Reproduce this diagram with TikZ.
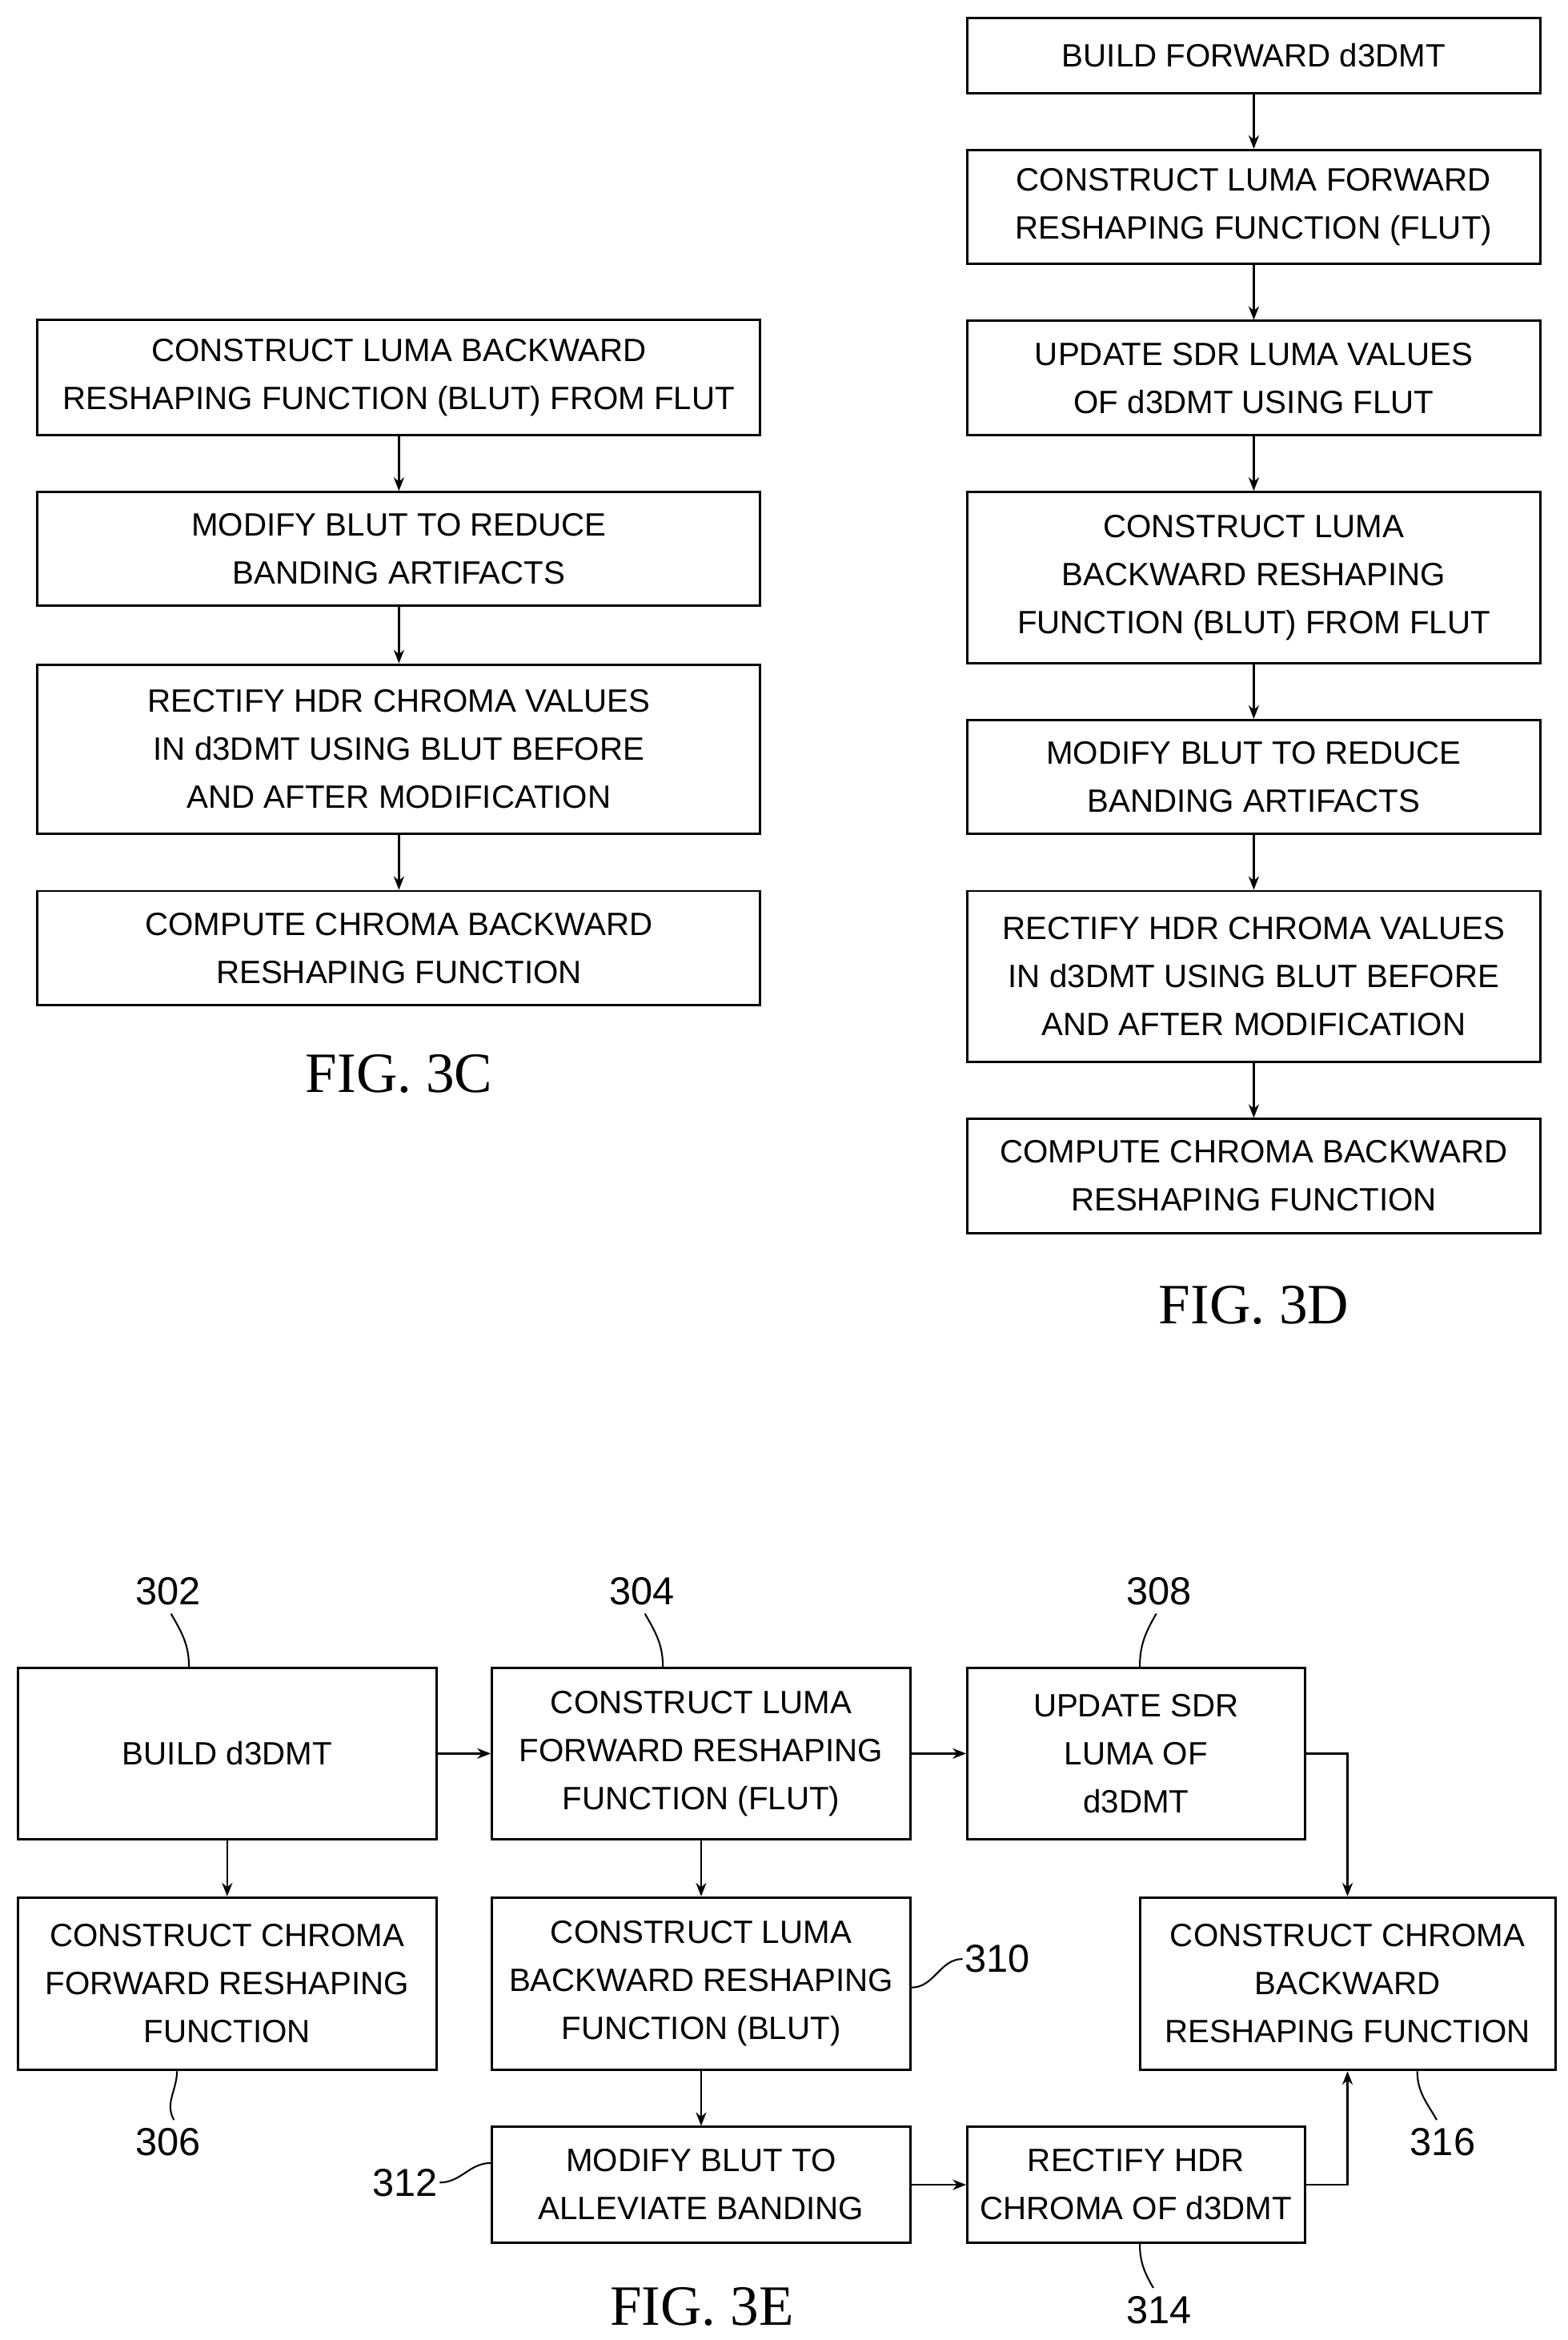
\documentclass[tikz,border=0pt]{standalone}
\usepackage{fontspec}
\setmainfont{Liberation Serif}
\setsansfont{Liberation Sans}
\usetikzlibrary{arrows.meta}
\tikzset{
  box/.style={draw,line width=1.6pt,align=center,inner sep=0pt,
    font=\sffamily\fontsize{21.5}{32}\selectfont},
  flow/.style={-{Stealth[length=9pt,width=7pt]},line width=1.2pt},
  lead/.style={line width=1.1pt},
  num/.style={font=\sffamily\fontsize{26}{30}\selectfont},
  fig/.style={font=\fontsize{38}{42}\selectfont}
}
\begin{document}
\begin{tikzpicture}[x=1pt,y=-1pt]
    \useasboundingbox (0,0) rectangle (1045,1560);
    % FIG. 3C
    \node[box,minimum width=482,minimum height=77] (C1) at (266,251.5) {CONSTRUCT LUMA BACKWARD\\RESHAPING FUNCTION (BLUT) FROM FLUT};
    \node[box,minimum width=482,minimum height=76] (C2) at (266,366) {MODIFY BLUT TO REDUCE\\BANDING ARTIFACTS};
    \node[box,minimum width=482,minimum height=113] (C3) at (266,499.5) {RECTIFY HDR CHROMA VALUES\\IN d3DMT USING BLUT BEFORE\\AND AFTER MODIFICATION};
    \node[box,minimum width=482,minimum height=76] (C4) at (266,632) {COMPUTE CHROMA BACKWARD\\RESHAPING FUNCTION};
    \node[fig] (F3C) at (266,716) {FIG. 3C};
    \draw[flow] (C1) -- (C2);
    \draw[flow] (C2) -- (C3);
    \draw[flow] (C3) -- (C4);
    % FIG. 3D
    \node[box,minimum width=382,minimum height=50] (D1) at (836,37) {BUILD FORWARD d3DMT};
    \node[box,minimum width=382,minimum height=76] (D2) at (836,138) {CONSTRUCT LUMA FORWARD\\RESHAPING FUNCTION (FLUT)};
    \node[box,minimum width=382,minimum height=76] (D3) at (836,252) {UPDATE SDR LUMA VALUES\\OF d3DMT USING FLUT};
    \node[box,minimum width=382,minimum height=114] (D4) at (836,385) {CONSTRUCT LUMA\\BACKWARD RESHAPING\\FUNCTION (BLUT) FROM FLUT};
    \node[box,minimum width=382,minimum height=76] (D5) at (836,518) {MODIFY BLUT TO REDUCE\\BANDING ARTIFACTS};
    \node[box,minimum width=382,minimum height=114] (D6) at (836,651) {RECTIFY HDR CHROMA VALUES\\IN d3DMT USING BLUT BEFORE\\AND AFTER MODIFICATION};
    \node[box,minimum width=382,minimum height=76] (D7) at (836,784) {COMPUTE CHROMA BACKWARD\\RESHAPING FUNCTION};
    \node[fig] (F3D) at (836,870) {FIG. 3D};
    \foreach \a/\b in {D1/D2,D2/D3,D3/D4,D4/D5,D5/D6,D6/D7}
      \draw[flow] (\a) -- (\b);
    % FIG. 3E
    \node[box,minimum width=279,minimum height=114] (B302) at (151.5,1169) {BUILD d3DMT};
    \node[box,minimum width=279,minimum height=114] (B304) at (467.5,1169) {CONSTRUCT LUMA\\FORWARD RESHAPING\\FUNCTION (FLUT)};
    \node[box,minimum width=225,minimum height=114] (B308) at (757.5,1169) {UPDATE SDR\\LUMA OF\\d3DMT};
    \node[box,minimum width=279,minimum height=115] (B306) at (151.5,1322.5) {CONSTRUCT CHROMA\\FORWARD RESHAPING\\FUNCTION};
    \node[box,minimum width=279,minimum height=115] (B310) at (467.5,1322.5) {CONSTRUCT LUMA\\BACKWARD RESHAPING\\FUNCTION (BLUT)};
    \node[box,minimum width=277,minimum height=115] (B316) at (898.5,1322.5) {CONSTRUCT CHROMA\\BACKWARD\\RESHAPING FUNCTION};
    \node[box,minimum width=279,minimum height=77] (B312) at (467.5,1456.5) {MODIFY BLUT TO\\ALLEVIATE BANDING};
    \node[box,minimum width=225,minimum height=77] (B314) at (757.5,1456.5) {RECTIFY HDR\\CHROMA OF d3DMT};
    \node[fig] (F3E) at (468,1538) {FIG. 3E};
    \draw[flow] (B302) -- (B304);
    \draw[flow] (B304) -- (B308);
    \draw[flow] (B302) -- (B306);
    \draw[flow] (B304) -- (B310);
    \draw[flow] (B310) -- (B312);
    \draw[flow] (B312) -- (B314);
    \draw[flow] (B308.east) -| (B316.north);
    \draw[flow] (B314.east) -| (B316.south);
    % reference numerals
    \node[num] (L302) at (112,1061) {302};
    \node[num] (L304) at (428,1061) {304};
    \node[num] (L308) at (773,1061) {308};
    \node[num] (L306) at (112,1428) {306};
    \node[num] (L310) at (665,1306) {310};
    \node[num] (L312) at (270,1455) {312};
    \node[num] (L316) at (962,1428) {316};
    \node[num] (L314) at (773,1540) {314};
    \draw[lead] (L302.south) ++(2,2) to[out=-60,in=90] (B302.north -| 126,0);
    \draw[lead] (L304.south) ++(2,2) to[out=-60,in=90] (B304.north -| 442,0);
    \draw[lead] (L308.south) ++(-2,2) to[out=-120,in=90] (B308.north -| 760,0);
    \draw[lead] (L306.north) ++(4,-2) to[out=120,in=-90] (B306.south -| 118,0);
    \draw[lead] (L310.west) ++(2,0) to[out=180,in=0] (B310.east |- 0,1325);
    \draw[lead] (L312.east) ++(-2,0) to[out=0,in=180] (B312.west |- 0,1442);
    \draw[lead] (L316.north) ++(-4,-2) to[out=120,in=-90] (B316.south -| 945,0);
    \draw[lead] (L314.north) ++(-4,-2) to[out=120,in=-90] (B314.south -| 760,0);
\end{tikzpicture}
\end{document}
